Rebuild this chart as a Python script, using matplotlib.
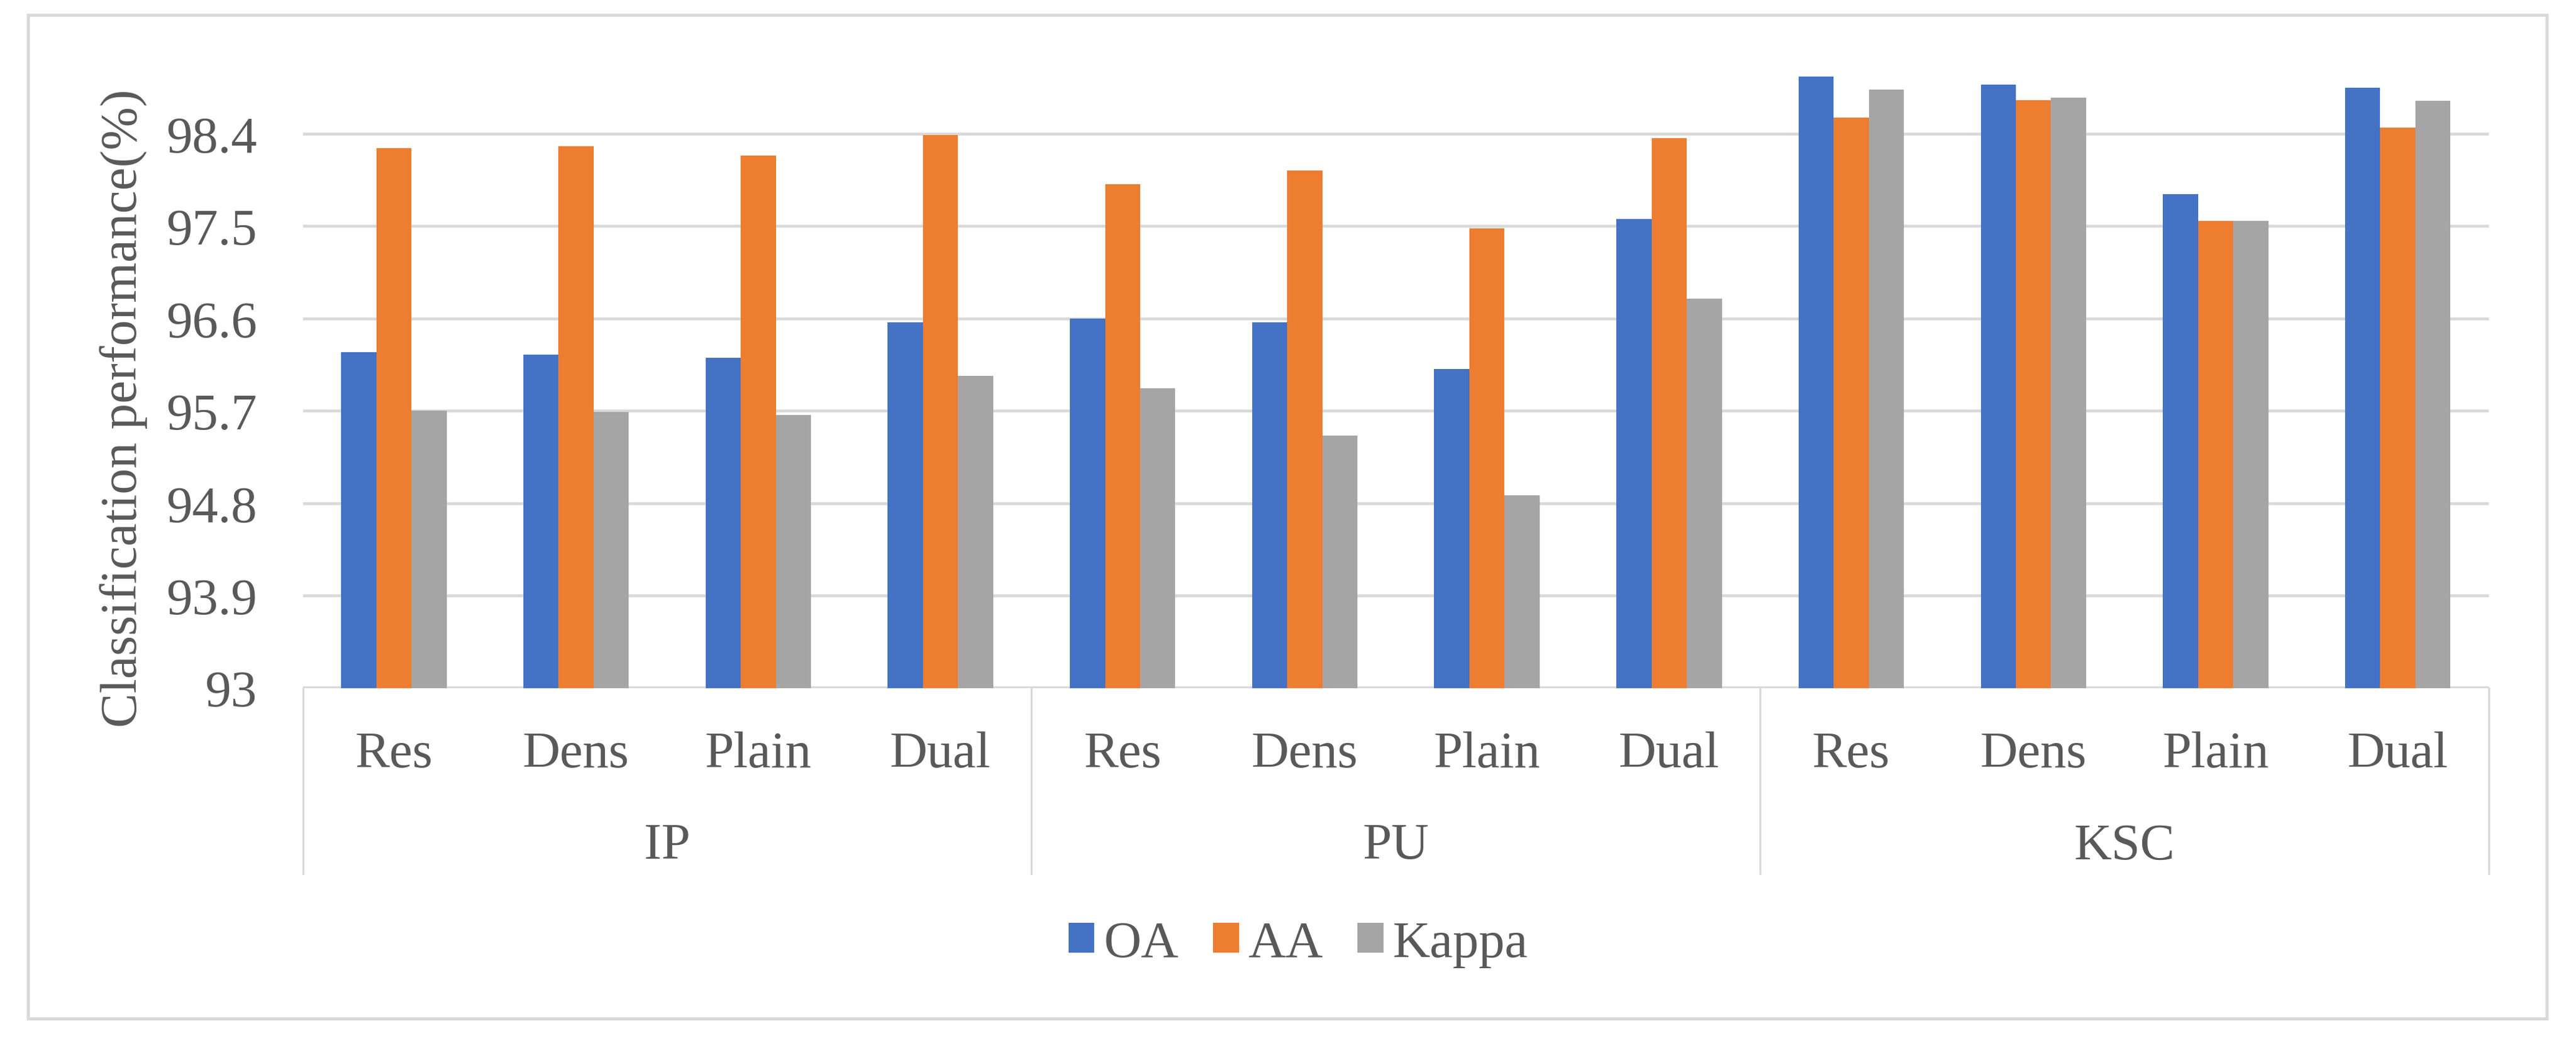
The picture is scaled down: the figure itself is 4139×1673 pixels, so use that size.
import numpy as np
import matplotlib
matplotlib.use("Agg")
import matplotlib.pyplot as plt
from matplotlib.patches import Rectangle

plt.rcParams['font.family'] = 'serif'
plt.rcParams['font.serif'] = ['Liberation Serif', 'DejaVu Serif']

# data
datasets = ["IP", "PU", "KSC"]
models = ["Res", "Dens", "Plain", "Dual"]
oa = [96.27, 96.25, 96.22, 96.56,
      96.60, 96.56, 96.11, 97.57,
      98.96, 98.88, 97.81, 98.85]
aa = [98.26, 98.28, 98.19, 98.39,
      97.91, 98.04, 97.48, 98.36,
      98.56, 98.73, 97.55, 98.46]
kappa = [95.70, 95.69, 95.66, 96.04,
         95.92, 95.46, 94.88, 96.79,
         98.83, 98.75, 97.55, 98.72]
yticks = [93, 93.9, 94.8, 95.7, 96.6, 97.5, 98.4]
series = [("OA", oa, "#4472C4"), ("AA", aa, "#ED7D31"), ("Kappa", kappa, "#A5A5A5")]

W, H = 4139, 1674
txt = "#595959"
grid = "#D9D9D9"
fs = 60
fam = "Liberation Serif"

fig = plt.figure(figsize=(W / 100, H / 100), dpi=100)
ax = fig.add_axes([486.6 / W, 1 - 1106.6 / H, (3999 - 486.6) / W, (1106.6 - 84) / H])

x = np.arange(len(oa))
bw = 0.193
for i, (name, vals, col) in enumerate(series):
    ax.bar(x + (i - 1) * bw, np.array(vals) - 93, bottom=93, width=bw,
           color=col, label=name, zorder=3)

ax.set_xlim(-0.5, len(oa) - 0.5)
ax.set_ylim(93, 99.2)
ax.set_yticks(yticks)
ax.set_yticklabels([f"{t:g}" for t in yticks], family=fam, fontsize=fs, color=txt)
ax.tick_params(axis='y', length=0, pad=53)
ax.set_xticks([])
ax.yaxis.grid(True, color=grid, lw=3.3, zorder=0)
for s in ax.spines.values():
    s.set_visible(False)
ax.axhline(93, color=grid, lw=4.3, zorder=2)

# two-level category axis
tr = ax.get_xaxis_transform()
for k in range(len(oa)):
    ax.text(k, -0.1236, models[k % len(models)], transform=tr, ha='center',
            va='baseline', fontsize=fs, color=txt, family=fam)
for g, name in enumerate(datasets):
    c = g * len(models) + (len(models) - 1) / 2
    ax.text(c, -0.2677, name, transform=tr, ha='center', va='baseline',
            fontsize=fs, color=txt, family=fam)
for b in np.arange(len(datasets) + 1) * len(models) - 0.5:
    ax.plot([b, b], [0, -0.292], transform=tr, color=grid, lw=2.2, clip_on=False)

fig.text(199 / W, 1 - 656 / H, "Classification performance(%)", rotation=90,
         ha='center', va='center', fontsize=fs, color=txt, family=fam)

fig.legend(loc='center', bbox_to_anchor=(0.504, 1 - 1518 / H), ncol=3, frameon=False,
           prop={'family': fam, 'size': fs}, labelcolor=txt,
           handlelength=0.5, handleheight=0.5,
           handletextpad=0.18, columnspacing=0.66)

fig.patches.append(Rectangle((45 / W, 1 - 1638 / H), (4092 - 45) / W, (1638 - 25) / H,
                             transform=fig.transFigure, fill=False, edgecolor=grid, lw=3.5))

fig.savefig("out.png", dpi=100, facecolor="white")
